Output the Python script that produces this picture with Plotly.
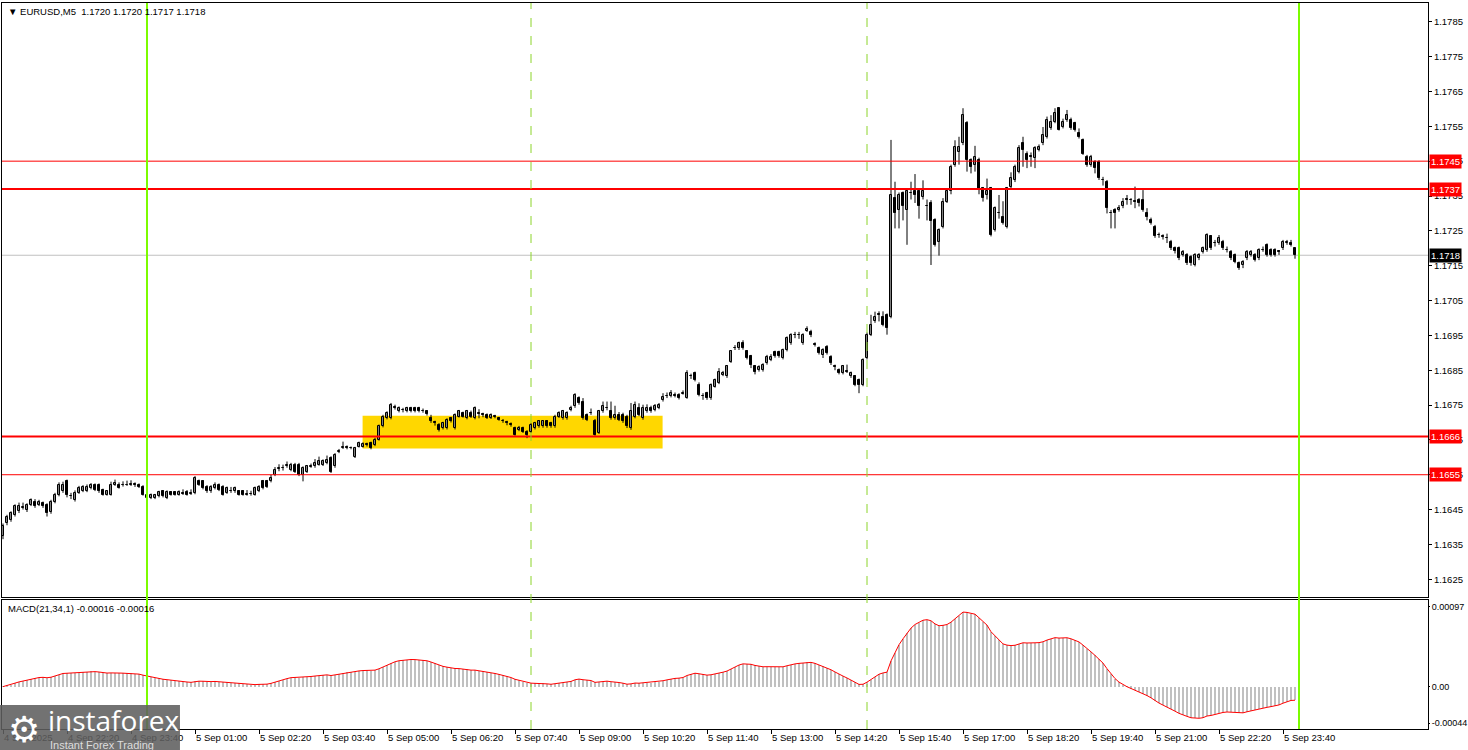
import plotly.graph_objects as go

# ---------------- data (prices in pips above BASE) ----------------
BASE = 1.16
PIP = 0.0001

open_pips = [
    37.3, 41.1, 42.1, 43.5, 44.5, 45.5, 45.0, 46.4, 47.3, 46.4,
    46.8, 46.4, 44.2, 47.3, 49.3, 50.2, 53.1, 49.0, 47.8, 49.8,
    50.2, 50.2, 51.2, 52.1, 52.1, 50.7, 49.3, 49.3, 52.1, 52.1,
    52.1, 52.0, 52.1, 52.2, 52.0, 51.6, 48.3, 48.3, 48.4, 48.8,
    50.2, 48.3, 50.0, 50.0, 49.3, 49.6, 50.0, 49.5, 49.7, 53.1,
    53.1, 51.6, 50.2, 51.2, 52.1, 51.6, 49.8, 50.2, 50.2, 50.2,
    50.2, 49.3, 49.4, 49.3, 50.2, 53.1, 53.1, 53.1, 55.0, 56.6,
    56.9, 57.4, 56.4, 57.9, 57.9, 55.0, 55.9, 57.3, 57.4, 57.9,
    57.9, 58.4, 59.8, 57.4, 61.4, 62.6, 63.1, 62.8, 60.2, 63.1,
    63.1, 63.6, 64.1, 63.6, 65.1, 68.9, 71.2, 71.2, 74.5, 73.2,
    73.7, 73.2, 74.1, 74.1, 74.1, 73.4, 73.2, 71.2, 70.0, 69.3,
    68.4, 68.4, 71.2, 68.4, 71.7, 72.7, 71.2, 72.7, 71.2, 72.6,
    72.2, 72.2, 71.2, 71.7, 71.2, 70.5, 70.0, 69.5, 68.4, 67.9,
    68.4, 67.4, 67.4, 68.4, 68.9, 68.9, 70.3, 69.8, 68.9, 71.7,
    71.2, 71.2, 73.6, 74.6, 77.0, 76.0, 72.2, 72.7, 70.3, 67.0,
    73.2, 74.1, 73.2, 71.2, 72.2, 72.2, 71.7, 68.4, 71.7, 74.1,
    71.2, 73.2, 74.1, 73.6, 74.1, 76.5,
    77.5, 77.5, 78.0, 78.0,
    78.3, 77.0, 83.2, 84.2, 80.8, 77.6, 78.4, 77.0, 80.3, 81.3,
    83.7, 83.2, 87.5, 91.3, 91.3, 92.7, 90.4, 89.0, 86.1, 85.1,
    85.1, 87.0, 88.0, 90.2, 90.2, 88.5, 90.8, 92.7, 95.1, 95.2,
    92.7, 96.3, 96.1, 92.4, 91.3, 89.4, 91.8, 88.9, 86.2, 85.1,
    84.2, 84.8, 83.2, 83.2, 82.2, 80.8, 88.5, 95.2, 99.0, 100.9,
    100.4, 100.9, 100.4, 134.4, 131.0, 135.8, 131.0, 135.8, 136.3, 136.3,
    134.8, 132.0, 133.0, 128.2, 121.9, 126.2, 133.4, 136.3, 143.9, 147.7,
    150.1, 155.9, 145.3, 143.9, 145.3, 137.2, 135.3, 137.2, 125.3, 130.1,
    129.1, 126.2, 137.7, 139.6, 142.0, 150.1, 147.2, 146.3, 145.8, 148.2,
    150.1, 152.0, 154.4, 156.3, 160.2, 154.9, 156.8, 156.8, 155.9, 153.0,
    151.1, 146.3, 143.9, 144.9, 144.9, 139.6, 139.1, 130.1, 131.0, 131.0,
    132.0, 133.9, 133.8, 133.4, 133.9, 133.9, 130.1, 128.2, 126.2, 123.8,
    123.3, 122.9, 121.9, 120.0, 120.0, 118.1, 118.1, 117.6, 115.2, 117.1,
    119.0, 119.5, 123.4, 121.4, 121.4, 121.9, 119.5, 119.0, 118.1, 115.7,
    115.2, 117.1, 118.1, 118.1, 117.1, 119.5, 121.0, 119.5, 119.5, 119.0,
    120.0, 121.4, 121.4, 120.0,
]

high_pips = [
    41.0, 43.5, 44.5, 46.5, 47.0, 47.0, 46.8, 48.2, 48.0, 47.8,
    47.3, 46.8, 47.8, 49.8, 52.8, 53.0, 53.6, 49.8, 50.5, 51.8,
    52.0, 52.2, 52.6, 52.5, 52.5, 51.0, 50.5, 53.0, 53.6, 52.8,
    53.1, 53.3, 53.4, 52.8, 52.5, 52.0, 49.8, 49.6, 49.5, 50.4,
    50.6, 50.5, 50.3, 50.3, 50.5, 50.8, 50.6, 50.8, 54.6, 53.6,
    53.4, 52.0, 52.0, 52.8, 52.5, 52.0, 51.6, 51.5, 51.6, 50.6,
    50.6, 50.6, 50.4, 51.6, 52.0, 53.5, 53.5, 55.0, 57.2, 58.0,
    57.9, 58.8, 58.4, 58.4, 58.4, 57.4, 57.8, 58.2, 59.5, 60.2,
    59.4, 60.5, 60.3, 61.2, 62.4, 64.5, 63.4, 63.1, 63.0, 64.5,
    64.3, 64.2, 64.5, 65.6, 69.4, 72.2, 73.2, 75.6, 75.1, 74.6,
    74.2, 74.5, 74.5, 74.5, 74.5, 74.0, 73.5, 72.2, 70.5, 69.8,
    70.2, 71.2, 71.6, 72.6, 73.6, 73.1, 73.6, 73.4, 74.6, 73.8,
    72.8, 72.6, 72.6, 72.2, 71.6, 71.0, 70.5, 70.0, 68.8, 69.0,
    68.8, 67.8, 69.8, 70.2, 70.7, 70.7, 70.7, 70.2, 72.2, 73.2,
    73.6, 73.2, 74.8, 78.4, 77.5, 77.0, 72.6, 74.0, 71.0, 73.6,
    76.0, 76.0, 76.0, 74.8, 73.0, 72.8, 72.2, 75.6, 76.0, 75.5,
    75.1, 75.2, 74.8, 75.3, 75.6, 78.4,
    78.6, 79.3, 78.6, 78.4,
    79.2, 85.0, 84.0, 84.6, 81.5, 78.4, 78.8, 81.2, 82.6, 85.6,
    84.8, 86.5, 90.8, 92.2, 93.2, 93.6, 90.8, 89.4, 86.5, 86.4,
    87.0, 89.4, 89.6, 90.6, 90.6, 91.2, 94.7, 95.6, 96.0, 96.0,
    95.6, 97.6, 96.6, 93.0, 91.8, 91.3, 92.2, 89.3, 86.6, 85.5,
    86.5, 86.6, 84.6, 83.6, 82.6, 88.4, 95.8, 100.9, 101.8, 101.9,
    101.9, 101.3, 151.1, 139.1, 136.0, 136.3, 137.0, 139.1, 141.3, 136.8,
    139.5, 134.0, 133.8, 128.6, 125.7, 134.4, 136.8, 144.0, 151.0, 152.0,
    160.2, 156.5, 145.8, 149.4, 146.0, 137.6, 140.0, 137.6, 132.0, 135.3,
    133.5, 137.6, 141.8, 144.0, 149.6, 152.0, 147.8, 147.5, 149.3, 149.8,
    154.8, 157.8, 158.2, 160.2, 160.2, 157.2, 159.7, 157.5, 156.3, 154.4,
    151.5, 146.8, 146.8, 145.3, 145.3, 140.5, 139.6, 131.0, 131.5, 132.4,
    134.4, 135.3, 134.4, 137.7, 134.4, 136.7, 131.5, 128.8, 126.7, 124.5,
    124.0, 124.2, 122.4, 120.5, 120.5, 119.5, 118.6, 118.0, 118.6, 118.6,
    120.5, 124.3, 123.8, 122.4, 123.8, 122.4, 120.5, 119.5, 118.5, 116.2,
    116.6, 119.5, 119.5, 118.6, 120.0, 120.5, 121.4, 120.0, 120.0, 119.5,
    122.4, 122.4, 122.4, 120.0,
]

low_pips = [
    36.5, 40.5, 41.5, 43.0, 44.0, 45.0, 44.3, 46.0, 45.5, 46.0,
    45.5, 43.0, 43.8, 46.8, 48.8, 49.8, 48.5, 48.0, 47.3, 49.5,
    50.0, 50.0, 50.8, 50.3, 49.8, 49.0, 49.0, 49.0, 51.8, 51.0,
    51.6, 51.8, 51.8, 51.5, 51.2, 49.0, 45.9, 48.0, 48.0, 48.5,
    48.5, 48.0, 49.0, 49.0, 49.0, 49.2, 49.0, 49.2, 49.4, 51.8,
    50.8, 49.8, 49.8, 50.8, 50.3, 49.0, 49.5, 49.8, 49.8, 49.0,
    49.0, 49.0, 49.0, 49.0, 50.0, 50.8, 51.2, 52.8, 54.6, 56.0,
    56.2, 57.0, 56.0, 55.5, 54.6, 53.1, 55.5, 57.0, 57.0, 57.6,
    57.5, 58.0, 55.5, 57.0, 61.2, 62.4, 62.3, 62.3, 59.8, 62.8,
    62.8, 63.1, 62.3, 63.2, 64.8, 68.6, 70.9, 70.9, 73.7, 72.9,
    72.9, 72.9, 72.9, 72.9, 72.9, 72.8, 72.0, 69.9, 69.1, 67.4,
    68.0, 68.0, 70.0, 68.0, 71.4, 71.4, 70.9, 71.3, 70.9, 71.2,
    71.5, 71.0, 71.0, 71.2, 70.5, 69.9, 69.2, 68.8, 66.2, 67.5,
    67.0, 65.5, 67.0, 68.0, 68.5, 68.5, 68.5, 68.5, 68.5, 71.3,
    70.8, 70.8, 73.2, 74.2, 75.1, 70.8, 70.4, 72.2, 66.2, 66.7,
    72.8, 73.5, 70.8, 70.8, 70.4, 69.9, 68.4, 67.9, 71.2, 71.8,
    70.8, 72.8, 72.8, 73.2, 73.8, 76.0,
    77.0, 77.2, 77.2, 76.6,
    78.0, 76.8, 82.5, 81.8, 77.5, 76.5, 76.5, 76.5, 80.0, 81.0,
    83.3, 82.8, 87.1, 90.8, 90.8, 90.9, 88.1, 85.6, 83.8, 84.6,
    84.6, 86.6, 87.6, 88.6, 88.6, 88.1, 90.4, 92.3, 94.2, 94.0,
    92.3, 96.0, 94.5, 91.8, 89.5, 88.5, 89.5, 86.5, 85.0, 83.8,
    83.8, 84.2, 82.8, 80.4, 78.4, 80.4, 88.1, 94.8, 98.6, 99.0,
    97.6, 95.2, 99.9, 125.7, 125.7, 128.0, 121.0, 134.0, 133.0, 128.5,
    134.0, 128.0, 115.2, 120.5, 117.9, 125.7, 133.0, 135.5, 143.4, 144.0,
    149.6, 142.0, 141.5, 142.0, 135.5, 133.4, 134.0, 123.4, 124.8, 128.5,
    126.8, 125.7, 137.2, 139.0, 141.5, 143.4, 143.0, 143.4, 143.0, 147.8,
    149.6, 151.5, 154.0, 155.9, 153.8, 154.4, 156.3, 154.0, 153.5, 151.5,
    146.8, 143.4, 143.4, 141.5, 139.6, 138.0, 130.0, 125.7, 125.7, 130.5,
    131.5, 132.5, 132.5, 131.5, 132.0, 130.5, 128.0, 126.8, 123.0, 123.0,
    122.5, 121.5, 119.5, 118.5, 116.6, 117.6, 115.2, 115.0, 114.8, 116.6,
    118.5, 119.0, 119.5, 120.5, 121.0, 119.5, 118.8, 116.6, 115.7, 113.8,
    114.3, 116.6, 117.6, 116.2, 116.6, 119.0, 117.6, 117.6, 117.6, 118.1,
    119.5, 121.0, 120.5, 117.0,
]

close_pips = [
    40.2, 43.0, 44.0, 45.9, 45.9, 45.8, 46.2, 47.8, 46.0, 47.3,
    45.9, 44.0, 47.3, 49.3, 52.1, 52.1, 49.3, 48.8, 49.8, 51.2,
    51.6, 51.6, 52.1, 50.7, 50.2, 49.3, 50.2, 52.1, 52.6, 51.2,
    52.0, 52.1, 52.2, 52.1, 51.6, 49.3, 49.3, 49.3, 49.2, 50.0,
    48.8, 50.0, 49.3, 49.3, 50.0, 49.5, 49.3, 49.6, 54.0, 52.1,
    51.2, 50.2, 51.6, 52.1, 50.7, 49.3, 51.2, 50.3, 51.2, 49.3,
    49.3, 49.4, 49.6, 51.2, 51.6, 51.2, 51.6, 54.0, 56.4, 56.9,
    56.8, 57.9, 57.9, 55.9, 55.0, 56.9, 57.4, 57.5, 58.4, 58.8,
    58.8, 59.3, 55.9, 60.7, 61.7, 63.1, 62.6, 62.6, 62.6, 64.1,
    63.8, 63.6, 62.6, 65.1, 68.9, 71.7, 72.7, 75.1, 74.1, 74.1,
    73.6, 74.1, 73.2, 73.2, 73.2, 73.3, 72.4, 70.3, 69.8, 67.9,
    69.8, 70.8, 70.3, 72.2, 73.2, 71.7, 73.2, 71.7, 74.1, 72.4,
    72.2, 71.3, 72.2, 71.6, 70.8, 70.3, 69.8, 69.3, 66.5, 68.4,
    67.4, 66.5, 69.3, 69.8, 70.3, 70.3, 68.9, 68.9, 71.7, 72.7,
    73.2, 72.7, 74.1, 77.9, 75.5, 71.2, 70.8, 72.7, 66.5, 73.2,
    74.6, 74.2, 71.2, 72.2, 70.8, 70.3, 68.9, 73.2, 75.1, 72.2,
    74.1, 74.1, 73.2, 74.6, 75.1, 77.4,
    77.6, 78.4, 77.6, 77.0,
    78.6, 84.2, 83.2, 82.2, 77.9, 77.5, 77.0, 80.8, 82.2, 84.6,
    84.2, 86.1, 90.4, 91.3, 92.7, 91.3, 88.5, 86.6, 84.6, 85.8,
    86.5, 88.9, 88.9, 89.0, 89.0, 90.8, 94.2, 95.2, 95.2, 95.1,
    95.2, 96.8, 95.2, 92.2, 89.9, 90.8, 89.9, 87.0, 86.0, 84.2,
    86.1, 84.5, 84.2, 80.8, 80.8, 88.0, 95.2, 98.0, 100.4, 100.9,
    98.0, 97.1, 135.3, 130.0, 135.3, 132.0, 136.3, 135.8, 135.3, 132.0,
    136.3, 132.0, 127.7, 121.0, 125.2, 133.4, 136.3, 143.4, 149.2, 149.2,
    158.2, 145.3, 143.4, 146.3, 136.7, 134.4, 136.3, 123.8, 131.5, 130.1,
    127.2, 137.2, 140.1, 143.4, 148.7, 148.2, 145.3, 146.3, 148.7, 149.2,
    152.5, 156.8, 156.3, 158.7, 154.0, 156.3, 158.2, 154.4, 154.0, 152.0,
    147.2, 143.9, 146.3, 143.0, 140.1, 139.6, 131.5, 130.1, 130.1, 131.5,
    133.4, 133.9, 133.9, 133.4, 132.9, 131.0, 129.1, 127.2, 123.4, 123.8,
    123.3, 122.9, 120.0, 119.1, 117.1, 119.0, 115.7, 115.7, 118.1, 118.1,
    120.0, 123.8, 120.0, 121.4, 122.9, 120.0, 119.5, 117.1, 116.2, 114.3,
    116.2, 119.0, 119.0, 116.6, 119.5, 119.5, 118.1, 118.1, 118.1, 119.0,
    121.9, 121.9, 121.0, 118.0,
]

# time axis labels (every 16 bars of M5)
time_labels = [
    "4 Sep 2025", "4 Sep 22:20", "4 Sep 23:40", "5 Sep 01:00", "5 Sep 02:20",
    "5 Sep 03:40", "5 Sep 05:00", "5 Sep 06:20", "5 Sep 07:40", "5 Sep 09:00",
    "5 Sep 10:20", "5 Sep 11:40", "5 Sep 13:00", "5 Sep 14:20", "5 Sep 15:40",
    "5 Sep 17:00", "5 Sep 18:20", "5 Sep 19:40", "5 Sep 21:00", "5 Sep 22:20",
    "5 Sep 23:40",
]
label_every = 16

# horizontal levels
levels_thin = [1.1745, 1.1655]
levels_thick = [1.1737, 1.1666]
# vertical markers (bar indices)
day_lines = [36, 324]
session_lines = [132, 216]
# highlighted zone (bar index range, price range)
zone_bars = [89.9, 164.9]
zone_prices = [1.16625, 1.16719]

# MACD(21,34,1) settings, EMA seed = price level before the visible window
macd_fast, macd_slow = 21, 34
macd_seed = 1.16395
macd_ticks = [0.00097, 0.0, -0.00044]
macd_ticktext = ["0.00097", "0.00", "-0.00044"]

price_ticks = [round(1.1625 + 0.001 * k, 4) for k in range(17)]

# ---------------- build ----------------
opens = [BASE + v * PIP for v in open_pips]
closes = [BASE + v * PIP for v in close_pips]
highs = [BASE + max(h, o, c) * PIP for h, o, c in zip(high_pips, open_pips, close_pips)]
lows = [BASE + min(l, o, c) * PIP for l, o, c in zip(low_pips, open_pips, close_pips)]
n = len(opens)
idx = list(range(n))


def ema(vals, period, seed):
    k = 2.0 / (period + 1)
    e = seed
    out = []
    for v in vals:
        e = e + k * (v - e)
        out.append(e)
    return out


macd = [f - s for f, s in zip(ema(closes, macd_fast, macd_seed), ema(closes, macd_slow, macd_seed))]

FONT = "Liberation Sans"
FS = 9
XR = [-0.25, 356.25]

fig = go.Figure()

# wicks
wx, wy = [], []
for i in idx:
    wx += [i, i, None]
    wy += [lows[i], highs[i], None]
fig.add_trace(go.Scatter(x=wx, y=wy, mode="lines", line=dict(color="black", width=1),
                         showlegend=False, hoverinfo="skip", xaxis="x", yaxis="y"))
# bodies
body_base = [min(o, c) for o, c in zip(opens, closes)]
body_h = [max(abs(c - o), 0.000012) for o, c in zip(opens, closes)]
body_col = ["white" if c > o else "black" for o, c in zip(opens, closes)]
fig.add_trace(go.Bar(x=idx, y=body_h, base=body_base, width=0.55,
                     marker=dict(color=body_col, line=dict(color="black", width=1)),
                     showlegend=False, hoverinfo="skip", xaxis="x", yaxis="y"))

fig.add_trace(go.Bar(x=idx, y=macd, width=0.5, marker=dict(color="#C0C0C0", line=dict(width=0)),
                     showlegend=False, hoverinfo="skip", xaxis="x2", yaxis="y2"))
fig.add_trace(go.Scatter(x=idx, y=macd, mode="lines", line=dict(color="#FF0000", width=1),
                         showlegend=False, hoverinfo="skip", xaxis="x2", yaxis="y2"))

shapes = []
shapes.append(dict(type="rect", xref="x", yref="y", x0=zone_bars[0], x1=zone_bars[1],
                   y0=zone_prices[0], y1=zone_prices[1], fillcolor="#FFD700", line=dict(width=0), layer="below"))
shapes.append(dict(type="line", xref="x domain", yref="y", x0=0, x1=1, y0=closes[-1], y1=closes[-1],
                   line=dict(color="#C0C0C0", width=1), layer="below"))
for lv in levels_thin:
    shapes.append(dict(type="line", xref="x domain", yref="y", x0=0, x1=1, y0=lv, y1=lv,
                       line=dict(color="#FF0000", width=1)))
for lv in levels_thick:
    shapes.append(dict(type="line", xref="x domain", yref="y", x0=0, x1=1, y0=lv, y1=lv,
                       line=dict(color="#FF0000", width=2)))
for xv in session_lines:
    shapes.append(dict(type="line", xref="x", yref="paper", x0=xv, x1=xv, y0=0, y1=1,
                       line=dict(color="#8CD42A", width=1, dash="dash")))
for xv in day_lines:
    shapes.append(dict(type="line", xref="x", yref="paper", x0=xv, x1=xv, y0=0, y1=1,
                       line=dict(color="#7CFC00", width=2)))
# watermark box
shapes.append(dict(type="rect", xref="paper", yref="paper", x0=-0.0014, x1=0.1248, y0=-0.029, y1=0.033,
                   fillcolor="rgba(95,95,95,0.88)", line=dict(width=0)))

annotations = []
for lv in levels_thin + levels_thick:
    annotations.append(dict(xref="paper", yref="y", x=1, y=lv, xanchor="left", yanchor="middle",
                            text=f"{lv:.4f}", showarrow=False, xshift=1, bgcolor="#FF0000",
                            borderpad=1, font=dict(family=FONT, size=FS + 0.5, color="white")))
annotations.append(dict(xref="paper", yref="y", x=1, y=closes[-1], xanchor="left", yanchor="middle",
                        text=f"{closes[-1]:.4f}", showarrow=False, xshift=1, bgcolor="#000000",
                        borderpad=1, font=dict(family=FONT, size=FS + 0.5, color="white")))
annotations.append(dict(xref="paper", yref="paper", x=0.0025, y=0.999, xanchor="left", yanchor="top",
                        text="▼ EURUSD,M5  %.4f %.4f %.4f %.4f" % (opens[-1], highs[-1], lows[-1], closes[-1]),
                        showarrow=False, font=dict(family=FONT, size=FS + 0.5, color="black")))
annotations.append(dict(xref="paper", yref="paper", x=0.0025, y=0.1768, xanchor="left", yanchor="top",
                        text="MACD(%d,%d,1) %.5f %.5f" % (macd_fast, macd_slow, macd[-1], macd[-1]),
                        showarrow=False, font=dict(family=FONT, size=FS + 0.5, color="black")))
annotations.append(dict(xref="paper", yref="paper", x=0.003, y=0.0, xanchor="left", yanchor="middle",
                        text="⚙", showarrow=False, font=dict(family="DejaVu Sans", size=36, color="white")))
annotations.append(dict(xref="paper", yref="paper", x=0.031, y=0.012, xanchor="left", yanchor="middle",
                        text="instaforex", showarrow=False, font=dict(family="Open Sans", size=28, color="white")))
annotations.append(dict(xref="paper", yref="paper", x=0.032, y=-0.022, xanchor="left", yanchor="middle",
                        text="Instant Forex Trading", showarrow=False, font=dict(family=FONT, size=11, color="#DDDDDD")))

fig.update_layout(
    width=1468, height=750,
    margin=dict(l=2, r=40, t=3, b=21, autoexpand=False),
    paper_bgcolor="white", plot_bgcolor="white",
    showlegend=False, bargap=0, barmode="overlay",
    shapes=shapes, annotations=annotations,
    xaxis=dict(domain=[0, 1], range=XR, anchor="y", showticklabels=False, ticks="",
               showgrid=False, zeroline=False, showline=True, mirror=True, linecolor="black",
               linewidth=1, fixedrange=True),
    yaxis=dict(domain=[0.1818, 1], range=[1.16199, 1.17904], side="right", anchor="x",
               tickvals=price_ticks, ticktext=[f"{v:.4f}" for v in price_ticks],
               ticks="outside", ticklen=3, tickcolor="black", showgrid=False, zeroline=False,
               showline=True, mirror=True, linecolor="black", linewidth=1,
               tickfont=dict(family=FONT, size=FS + 0.5, color="black")),
    xaxis2=dict(domain=[0, 1], range=XR, anchor="y2",
                tickvals=[k * label_every for k in range(len(time_labels))], ticktext=time_labels,
                ticks="outside", ticklen=4, tickcolor="black", ticklabelposition="outside right",
                showgrid=False, zeroline=False, showline=True, mirror=True, linecolor="black",
                linewidth=1, tickfont=dict(family=FONT, size=FS + 0.5, color="black")),
    yaxis2=dict(domain=[0, 0.1777], range=[-0.00051, 0.00105], side="right", anchor="x2",
                tickvals=macd_ticks, ticktext=macd_ticktext, ticks="outside", ticklen=1,
                tickcolor="black", showgrid=False, zeroline=False, showline=True, mirror=True,
                linecolor="black", linewidth=1, tickfont=dict(family=FONT, size=FS, color="black")),
)

fig.write_html("out.html", config={"displayModeBar": False},
               post_script="document.body.style.margin='0';document.body.style.padding='0';")
